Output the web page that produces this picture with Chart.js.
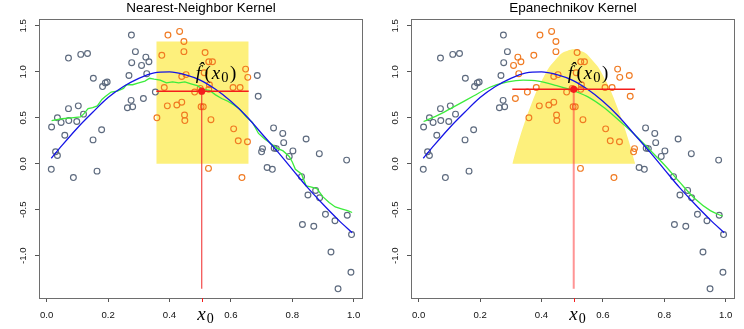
<!DOCTYPE html>
<html>
<head>
<meta charset="utf-8">
<script src="https://cdn.jsdelivr.net/npm/chart.js@4.4.1/dist/chart.umd.min.js"></script>
<style>
  body { margin: 0; background: #fff; }
  .panels { display: flex; width: 744px; height: 329px; }
  canvas { display: block; }
</style>
</head>
<body>
<div class="panels">
  <canvas id="nnChart" width="372" height="329"></canvas>
  <canvas id="epaChart" width="372" height="329"></canvas>
</div>
<script>
// training sample (x, y)
const sampleX = [
  0.016, 0.035, 0.047, 0.071, 0.071, 0.059, 0.072, 0.098, 0.103, 0.111, 0.133, 0.120,
  0.152, 0.182, 0.191, 0.197, 0.179, 0.151, 0.029, 0.035, 0.015, 0.087, 0.164,
  0.276, 0.289, 0.277, 0.268, 0.309, 0.323, 0.333, 0.326, 0.275, 0.263, 0.280, 0.315, 0.354,
  0.395, 0.433, 0.447, 0.447, 0.375, 0.516, 0.528, 0.540, 0.513, 0.440, 0.454, 0.530,
  0.500, 0.383, 0.482, 0.528, 0.607, 0.630, 0.648, 0.655, 0.393, 0.424, 0.440, 0.449,
  0.450, 0.503, 0.510, 0.535, 0.359, 0.609, 0.624, 0.654, 0.527, 0.636,
  0.686, 0.689, 0.739, 0.769, 0.772, 0.845, 0.888, 0.977, 0.703, 0.700, 0.741, 0.748,
  0.802, 0.790, 0.718, 0.735, 0.830, 0.851, 0.876, 0.889, 0.908, 0.939, 0.979, 0.993,
  0.833, 0.870, 0.926, 0.991, 0.949
];
const sampleY = [
  0.40, 0.50, 0.45, 1.15, 0.60, 0.31, 0.47, 0.46, 0.63, 1.19, 1.20, 0.54,
  0.93, 0.84, 0.88, 0.89, 0.37, 0.26, 0.13, 0.09, -0.06, -0.15, -0.08,
  1.40, 1.22, 1.10, 0.96, 1.07, 1.16, 1.11, 0.98, 0.69, 0.61, 0.62, 0.71, 0.78,
  1.40, 1.44, 1.33, 1.22, 1.18, 1.21, 1.11, 1.11, 0.99, 0.95, 0.97, 0.86,
  0.82, 0.83, 0.78, 0.81, 0.83, 0.83, 1.03, 0.94, 0.63, 0.64, 0.67, 0.53,
  0.47, 0.62, 0.62, 0.48, 0.50, 0.38, 0.25, 0.24, -0.05, -0.15,
  0.96, 0.735, 0.39, 0.33, 0.23, 0.27, 0.11, 0.04, 0.165, 0.13, 0.17, 0.165,
  0.14, 0.08, -0.04, -0.06, -0.14, -0.34, -0.29, -0.37, -0.55, -0.62, -0.56, -0.77,
  -0.66, -0.68, -0.96, -1.18, -1.36
];

// true regression curve
const trueX = [0.015, 0.05, 0.1, 0.15, 0.2, 0.25, 0.3, 0.35, 0.4, 0.45, 0.5,
  0.55, 0.6, 0.65, 0.7, 0.75, 0.8, 0.85, 0.9, 0.95, 0.995];
const trueY = [0.06, 0.2, 0.39, 0.56, 0.72, 0.84, 0.93, 0.99, 1.0, 0.97, 0.91,
  0.81, 0.68, 0.52, 0.33, 0.14, -0.06, -0.26, -0.44, -0.61, -0.75];

// 30-nearest-neighbour running mean
const nnFitX = [0.016, 0.05, 0.08, 0.11, 0.12, 0.135, 0.15, 0.165, 0.18, 0.19, 0.21,
  0.23, 0.25, 0.26, 0.28, 0.30, 0.32, 0.335, 0.35, 0.37, 0.39, 0.41, 0.43, 0.45,
  0.47, 0.49, 0.51, 0.53, 0.55, 0.57, 0.59, 0.61, 0.63, 0.65, 0.67, 0.69, 0.71,
  0.73, 0.75, 0.77, 0.79, 0.80, 0.81, 0.83, 0.845, 0.86, 0.88, 0.90, 0.92, 0.94,
  0.96, 0.98, 0.995];
const nnFitY = [0.47, 0.49, 0.50, 0.51, 0.54, 0.60, 0.61, 0.63, 0.70, 0.73, 0.78,
  0.79, 0.82, 0.86, 0.86, 0.88, 0.90, 0.93, 0.92, 0.91, 0.88, 0.89, 0.88, 0.89,
  0.87, 0.85, 0.81, 0.80, 0.75, 0.71, 0.68, 0.64, 0.59, 0.51, 0.45, 0.33, 0.27,
  0.22, 0.17, 0.14, 0.08, 0.02, -0.06, -0.11, -0.24, -0.25, -0.27, -0.36, -0.42, -0.47,
  -0.49, -0.51, -0.53];

// Epanechnikov-weighted average
const epaFitX = [0.016, 0.07, 0.12, 0.18, 0.23, 0.29, 0.34, 0.39, 0.45, 0.5, 0.55,
  0.6, 0.65, 0.7, 0.75, 0.8, 0.85, 0.9, 0.95, 0.99];
const epaFitY = [0.46, 0.54, 0.63, 0.74, 0.83, 0.89, 0.91, 0.90, 0.85, 0.80, 0.73,
  0.62, 0.48, 0.33, 0.16, -0.01, -0.20, -0.38, -0.51, -0.57];

// target point and the two local fits
const x0 = 0.505;
const nnWindow = [0.357, 0.658];
const nnBoxHeight = 1.33;
const nnEstimate = 0.79;
const epaWindow = [0.305, 0.705];
const epaEstimate = 0.81;
const stemBottom = -1.36;

// kernel weights over the window
const epaKernelX = [0.305, 0.325, 0.345, 0.365, 0.385, 0.405, 0.425, 0.445, 0.465, 0.485, 0.505,
  0.525, 0.545, 0.565, 0.585, 0.605, 0.625, 0.645, 0.665, 0.685, 0.705];
const epaKernelY = [0, 0.24, 0.45, 0.63, 0.80, 0.93, 1.05, 1.13, 1.20, 1.23, 1.245,
  1.23, 1.20, 1.13, 1.05, 0.93, 0.80, 0.63, 0.45, 0.24, 0];

const xTickValues = [0, 0.2, 0.4, 0.6, 0.8, 1.0];
const yTickValues = [-1.0, -0.5, 0.0, 0.5, 1.0, 1.5];

const GREY = "#5d6a7e";
const ORANGE = "#f07a22";
const YELLOW = "#fdf07c";
const BLUE = "#1414e6";
const GREEN = "#3cec3c";
const RED = "#f41c1c";

const zip = (xs, ys) => xs.map((x, i) => ({ x: x, y: ys[i] }));

// box, title and the math labels
const decor = {
  id: "decor",
  afterDraw(chart, args, opts) {
    const { ctx, chartArea: a, scales } = chart;
    const px = scales.x.getPixelForValue(x0);
    ctx.save();

    ctx.strokeStyle = "#6e6e6e";
    ctx.lineWidth = 1;
    ctx.strokeRect(a.left + 0.5, a.top + 0.5, a.right - a.left - 1, a.bottom - a.top);

    ctx.fillStyle = "#000";
    ctx.textAlign = "center";
    ctx.textBaseline = "alphabetic";
    ctx.font = '13.5px "Liberation Sans", Arial, sans-serif';
    ctx.fillText(opts.title, (a.left + a.right) / 2, 12);

    // red tick for x0 on the axis
    ctx.strokeStyle = RED;
    ctx.beginPath();
    ctx.moveTo(Math.round(px) + 0.5, a.bottom);
    ctx.lineTo(Math.round(px) + 0.5, a.bottom + 4);
    ctx.stroke();

    ctx.textAlign = "left";
    const it = '19px "Liberation Serif", "DejaVu Serif", serif';
    const itI = 'italic ' + it;
    const sub = '14.5px "Liberation Serif", "DejaVu Serif", serif';

    // \hat f(x_0)
    let x = px - 6;
    const base = scales.y.getPixelForValue(0.92);
    ctx.font = itI;
    ctx.fillText("f", x, base);
    ctx.fillText("\u02C6", x + 2, base - 4.5);
    x += ctx.measureText("f").width + 3.5;
    ctx.font = it;
    ctx.fillText("(", x, base);
    x += ctx.measureText("(").width + 1;
    ctx.font = itI;
    ctx.fillText("x", x, base);
    x += ctx.measureText("x").width + 1;
    ctx.font = sub;
    ctx.fillText("0", x, base + 3);
    x += ctx.measureText("0").width + 1.5;
    ctx.font = it;
    ctx.fillText(")", x, base);

    // x_0 under the axis
    x = px - 4.5;
    ctx.font = 'italic 19px "Liberation Serif", "DejaVu Serif", serif';
    ctx.fillText("x", x, 319.5);
    x += ctx.measureText("x").width + 1;
    ctx.font = '14px "Liberation Serif", "DejaVu Serif", serif';
    ctx.fillText("0", x, 322.5);

    ctx.restore();
  }
};

function makePanel(id, title, windowLo, windowHi, estimate, shade, fitX, fitY, stemStyle) {
  const inWindow = (v) => v >= windowLo && v <= windowHi;
  return new Chart(document.getElementById(id), {
    type: "line",
    data: {
      datasets: [
        {
          data: [{ x: x0, y: estimate }],
          showLine: false,
          pointRadius: 3.6,
          pointBackgroundColor: RED,
          pointBorderColor: RED,
          pointBorderWidth: 0,
          order: 0
        },
        {
          data: [{ x: windowLo, y: estimate }, { x: windowHi, y: estimate }],
          borderColor: RED,
          borderWidth: 1.5,
          pointRadius: 0,
          order: 1
        },
        {
          data: [{ x: x0, y: estimate }, { x: x0, y: stemBottom }],
          borderColor: stemStyle.color,
          borderWidth: stemStyle.width,
          pointRadius: 0,
          order: 1
        },
        {
          data: zip(trueX, trueY),
          borderColor: BLUE,
          borderWidth: 1.3,
          pointRadius: 0,
          cubicInterpolationMode: "monotone",
          order: 2
        },
        {
          data: zip(fitX, fitY),
          borderColor: GREEN,
          borderWidth: 1.3,
          pointRadius: 0,
          cubicInterpolationMode: fitX === nnFitX ? "default" : "monotone",
          tension: 0,
          order: 2
        },
        {
          data: zip(sampleX, sampleY),
          showLine: false,
          pointRadius: 2.9,
          pointBorderWidth: 1.15,
          pointBackgroundColor: "rgba(0,0,0,0)",
          pointBorderColor: (c) => (c.raw && inWindow(c.raw.x) ? ORANGE : GREY),
          order: 3
        },
        Object.assign({
          borderWidth: 0,
          pointRadius: 0,
          fill: "origin",
          backgroundColor: YELLOW,
          order: 9
        }, shade)
      ]
    },
    options: {
      responsive: false,
      animation: false,
      events: [],
      layout: { padding: { top: 19, right: 9, left: 0, bottom: 0 } },
      plugins: {
        legend: { display: false },
        tooltip: { enabled: false },
        title: { display: false },
        filler: { drawTime: "beforeDatasetsDraw" },
        decor: { title: title }
      },
      scales: {
        x: {
          type: "linear",
          min: -0.025,
          max: 1.0303,
          afterFit: (s) => { s.height = 31; },
          afterBuildTicks: (s) => { s.ticks = xTickValues.map((v) => ({ value: v })); },
          border: { display: false },
          grid: { drawOnChartArea: false, drawTicks: true, tickLength: 4, tickColor: "#555" },
          ticks: {
            autoSkip: false,
            maxRotation: 0,
            padding: 7.5,
            color: "#111",
            font: { family: '"Liberation Sans", Arial, sans-serif', size: 9.6 },
            callback: (v) => v.toFixed(1)
          }
        },
        y: {
          type: "linear",
          min: -1.46,
          max: 1.575,
          afterFit: (s) => { s.width = 39; },
          afterBuildTicks: (s) => { s.ticks = yTickValues.map((v) => ({ value: v })); },
          border: { display: false },
          grid: { drawOnChartArea: false, drawTicks: true, tickLength: 4, tickColor: "#555" },
          ticks: {
            autoSkip: false,
            minRotation: 90,
            maxRotation: 90,
            crossAlign: "center",
            padding: 3.5,
            color: "#111",
            font: { family: '"Liberation Sans", Arial, sans-serif', size: 9.6 },
            callback: (v) => v.toFixed(1)
          }
        }
      }
    },
    plugins: [decor]
  });
}

makePanel("nnChart", "Nearest-Neighbor Kernel", nnWindow[0], nnWindow[1], nnEstimate,
  {
    data: [
      { x: nnWindow[0], y: 0 }, { x: nnWindow[0], y: nnBoxHeight },
      { x: nnWindow[1], y: nnBoxHeight }, { x: nnWindow[1], y: 0 }
    ]
  },
  nnFitX, nnFitY, { color: "rgba(240,30,30,0.8)", width: 1.2 });

makePanel("epaChart", "Epanechnikov Kernel", epaWindow[0], epaWindow[1], epaEstimate,
  { data: zip(epaKernelX, epaKernelY), cubicInterpolationMode: "monotone" },
  epaFitX, epaFitY, { color: "rgba(255,60,60,0.55)", width: 2 });
</script>
</body>
</html>
